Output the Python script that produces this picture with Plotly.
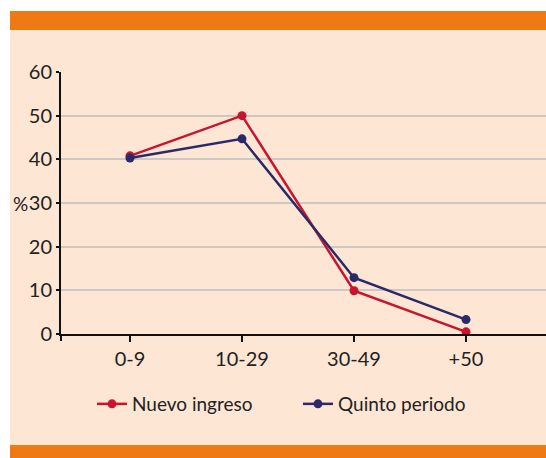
import plotly.graph_objects as go

categories = ["0-9", "10-29", "30-49", "+50"]
nuevo_ingreso = [40.8, 50.0, 9.9, 0.5]
quinto_periodo = [40.3, 44.7, 12.9, 3.3]
y_ticks = [0, 10, 20, 30, 40, 50, 60]

W, H = 546, 458
L, R, T, B = 61, 0, 72, 124
pw, ph = W - L - R, H - T - B

def px(x):
    return (x - L) / pw

def py(y):
    return (H - B - y) / ph

RED = "#C8152F"
NAVY = "#2A2A68"
ORANGE = "#EF7914"
CREAM = "#FDE6D4"
FONT = "Lato"

fig = go.Figure()
fig.add_trace(go.Scatter(x=categories, y=nuevo_ingreso, name="Nuevo ingreso",
                         mode="lines+markers", line=dict(color=RED, width=2.5),
                         marker=dict(color=RED, size=9)))
fig.add_trace(go.Scatter(x=categories, y=quinto_periodo, name="Quinto periodo",
                         mode="lines+markers", line=dict(color=NAVY, width=2.5),
                         marker=dict(color=NAVY, size=9)))

shapes = [
    dict(type="rect", xref="paper", yref="paper", x0=px(10), x1=px(W + 5), y0=py(445), y1=py(30),
         fillcolor=CREAM, line_width=0, layer="below"),
    dict(type="rect", xref="paper", yref="paper", x0=px(10), x1=px(W + 5), y0=py(30), y1=py(11),
         fillcolor=ORANGE, line_width=0, layer="below"),
    dict(type="rect", xref="paper", yref="paper", x0=px(10), x1=px(W + 5), y0=py(H + 5), y1=py(445),
         fillcolor=ORANGE, line_width=0, layer="below"),
    dict(type="line", xref="paper", yref="paper", x0=0, x1=0, y0=py(341), y1=0,
         line=dict(color="#111", width=2)),
]

fig.update_layout(
    width=W, height=H,
    margin=dict(l=L, r=R, t=T, b=B),
    paper_bgcolor="white", plot_bgcolor=CREAM,
    font=dict(family=FONT, size=19, color="#222"),
    shapes=shapes,
    showlegend=True,
    legend=dict(orientation="h", x=px(92), xanchor="left", y=py(404), yanchor="middle",
                bgcolor="rgba(0,0,0,0)", font=dict(size=19, family=FONT, color="#222"),
                itemwidth=30, entrywidth=161, traceorder="normal"),
    annotations=[dict(text="%", xref="paper", yref="paper", x=px(20), y=py(203),
                      xanchor="center", yanchor="middle",
                      showarrow=False, font=dict(size=19, family=FONT, color="#222"))],
    xaxis=dict(type="category", range=[-0.616, 3.714], showgrid=False,
               showline=True, linecolor="#111", linewidth=2,
               ticks="outside", ticklen=6, tickwidth=2, tickcolor="#111",
               tickfont=dict(size=20), zeroline=False),
    yaxis=dict(range=[0, 60], tickvals=y_ticks, showgrid=True, gridcolor="#cdc8c3", gridwidth=1.5,
               showline=True, linecolor="#111", linewidth=2,
               ticks="outside", ticklen=3, tickwidth=1.5, tickcolor="#111",
               tickfont=dict(size=20), zeroline=False),
)

fig.write_html("out.html", config={"displayModeBar": False},
               post_script="document.body.style.margin='0';document.body.style.overflow='hidden';")
